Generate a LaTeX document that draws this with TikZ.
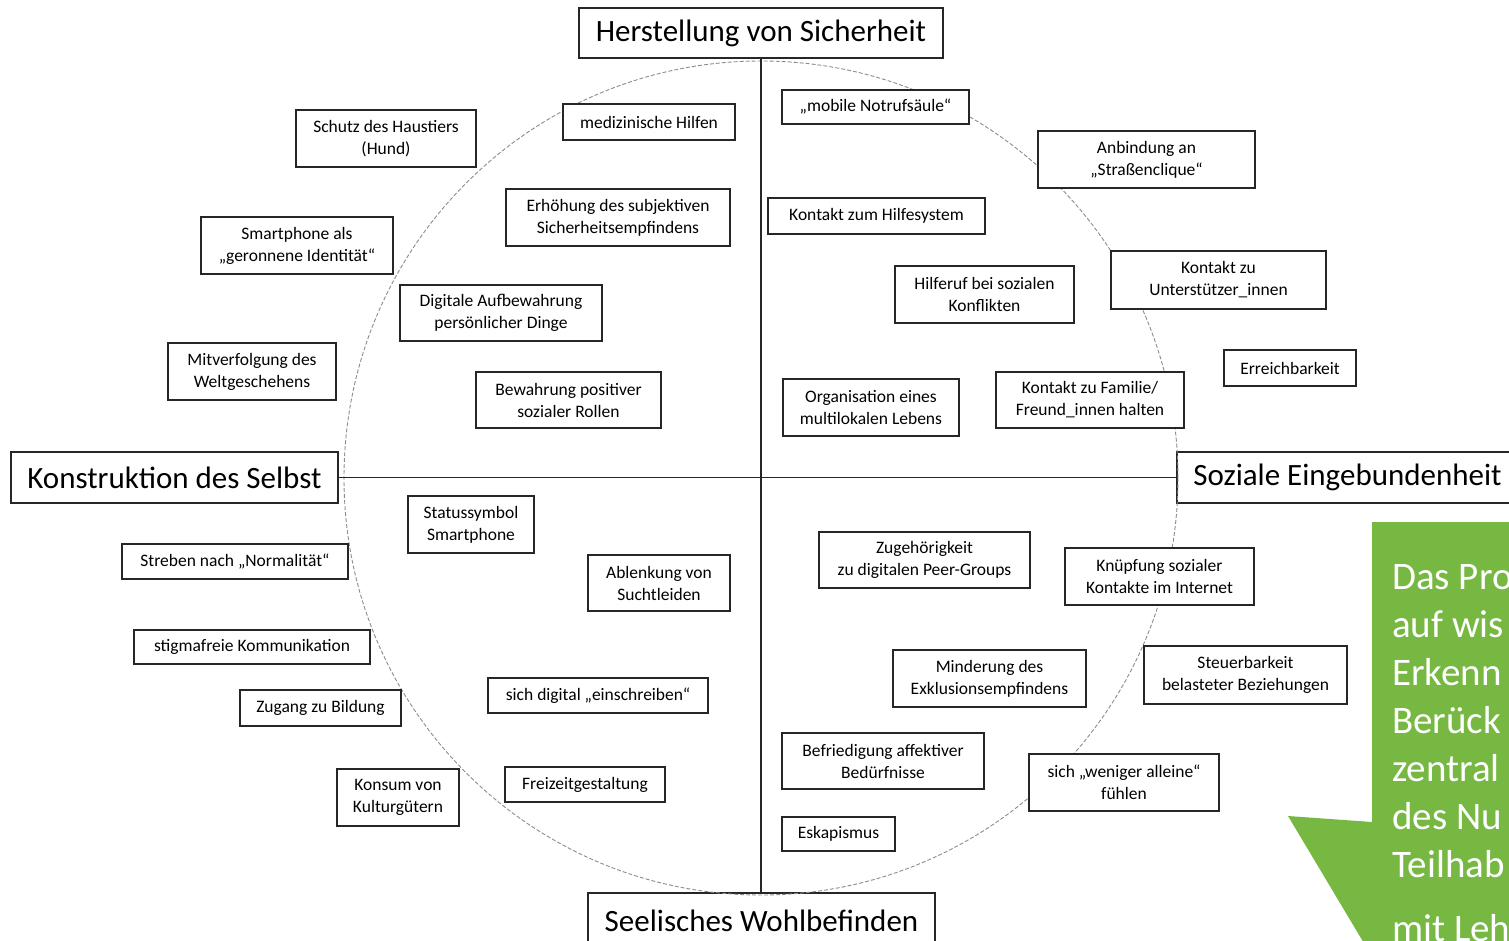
\documentclass[tikz,border=0pt]{standalone}
\usepackage{fontspec}
\setmainfont{Carlito}
\usepackage{tikz}
\definecolor{callgreen}{RGB}{118,184,66}
\newcommand{\itemsize}{\fontsize{17.5}{22}\selectfont}
\newcommand{\headsize}{\fontsize{31}{37}\selectfont}
\newcommand{\callsize}{\fontsize{39}{48}\selectfont}

\begin{document}
\begin{tikzpicture}[
    x=1pt, y=-1pt,
    item/.style 2 args={draw=black!85, fill=white, line width=1.3pt, inner sep=0pt,
      align=center, font=\itemsize, minimum width=#1, minimum height=#2},
    heading/.style 2 args={draw=black!85, fill=white, line width=1.3pt, inner sep=0pt,
      font=\headsize, minimum width=#1, minimum height=#2},
    axis/.style={draw=black!85, line width=1.3pt},
    ring/.style={draw=black!45, line width=0.9pt, dash pattern=on 4pt off 2pt},
    calltext/.style={text=white, font=\callsize, inner sep=0pt, anchor=base west},
  ]
  \useasboundingbox (0,0) rectangle (1509,941);
  \clip (0,0) rectangle (1509,941);

  % four dimensions
  \node[heading={364}{50}] (sicherheit) at (761,33) {Herstellung von Sicherheit};
  \node[heading={327}{51}] (selbst) at (174.5,477.5) {Konstruktion des Selbst};
  \node[heading={341}{51}] (sozial) at (1347.5,477.5) {Soziale Eingebundenheit};
  \node[heading={347}{56}] (wohl) at (761.5,921) {Seelisches Wohlbefinden};

  \coordinate (centre) at (761,478);
  \draw[ring] (centre) circle[radius=417];
  \draw[axis] (sicherheit.south) -- (sicherheit.south |- wohl.north);
  \draw[axis] (selbst.east) -- (selbst.east -| sozial.west);

  % upper left
  \node[item={180}{57}] (haustier) at (386,138.5) {Schutz des Haustiers\\(Hund)};
  \node[item={172}{36}] (hilfen) at (649,122) {medizinische Hilfen};
  \node[item={224}{57}] (empfinden) at (618,217.5) {Erhöhung des subjektiven\\Sicherheitsempfindens};
  \node[item={192}{57}] (identitaet) at (297,245.5) {Smartphone als\\„geronnene Identität“};
  \node[item={202}{56}] (aufbewahrung) at (501,313) {Digitale Aufbewahrung\\persönlicher Dinge};
  \node[item={168}{57}] (weltgeschehen) at (252,371.5) {Mitverfolgung des\\Weltgeschehens};
  \node[item={185}{56}] (rollen) at (568.5,400) {Bewahrung positiver\\sozialer Rollen};

  % upper right
  \node[item={187}{34}] (notruf) at (875.5,107) {„mobile Notrufsäule“};
  \node[item={217}{57}] (clique) at (1146.5,159.5) {Anbindung an\\„Straßenclique“};
  \node[item={217}{36}] (hilfesystem) at (876.5,216) {Kontakt zum Hilfesystem};
  \node[item={179}{57}] (hilferuf) at (984.5,294.5) {Hilferuf bei sozialen\\Konflikten};
  \node[item={215}{58}] (unterstuetzer) at (1218.5,280) {Kontakt zu\\Unterstützer\_innen};
  \node[item={132}{36}] (erreichbar) at (1290,368) {Erreichbarkeit};
  \node[item={188}{56}] (familie) at (1090,400) {Kontakt zu Familie/\\Freund\_innen halten};
  \node[item={176}{57}] (multilokal) at (871,407.5) {Organisation eines\\multilokalen Lebens};

  % lower left
  \node[item={126}{57}] (status) at (471,524.5) {Statussymbol\\Smartphone};
  \node[item={226}{35}] (normal) at (235,561.5) {Streben nach „Normalität“};
  \node[item={142}{56}] (sucht) at (659,583) {Ablenkung von\\Suchtleiden};
  \node[item={236}{34}] (stigma) at (252,647) {stigmafreie Kommunikation};
  \node[item={161}{36}] (bildung) at (320.5,708) {Zugang zu Bildung};
  \node[item={220}{35}] (einschreiben) at (598,695.5) {sich digital „einschreiben“};
  \node[item={122}{57}] (kultur) at (398,797.5) {Konsum von\\Kulturgütern};
  \node[item={160}{35}] (freizeit) at (585,784.5) {Freizeitgestaltung};

  % lower right
  \node[item={211}{56}] (peers) at (924.5,560) {Zugehörigkeit\\zu digitalen Peer-Groups};
  \node[item={189}{57}] (kontakte) at (1159.5,576.5) {Knüpfung sozialer\\Kontakte im Internet};
  \node[item={193}{57}] (exklusion) at (989.5,678.5) {Minderung des\\Exklusionsempfindens};
  \node[item={203}{58}] (steuerbar) at (1245.5,675) {Steuerbarkeit\\belasteter Beziehungen};
  \node[item={202}{56}] (affektiv) at (883,761) {Befriedigung affektiver\\Bedürfnisse};
  \node[item={190}{57}] (alleine) at (1124,782.5) {sich „weniger alleine“\\fühlen};
  \node[item={113}{34}] (eskapismus) at (838.5,834) {Eskapismus};

  % callout
  \fill[callgreen] (1372,522) -- (1520,522) -- (1520,960) -- (1374,960)
    -- (1288,816) -- (1372,822) -- cycle;
  \foreach \txt [count=\i from 0] in {Das Pro, auf wis, Erkenn, Berück, zentral, des Nu, Teilhab}
    \node[calltext] (line\i) at (1392,589+48*\i) {\txt};
  \node[calltext] (line7) at (1392,941) {mit Leh};
\end{tikzpicture}
\end{document}
